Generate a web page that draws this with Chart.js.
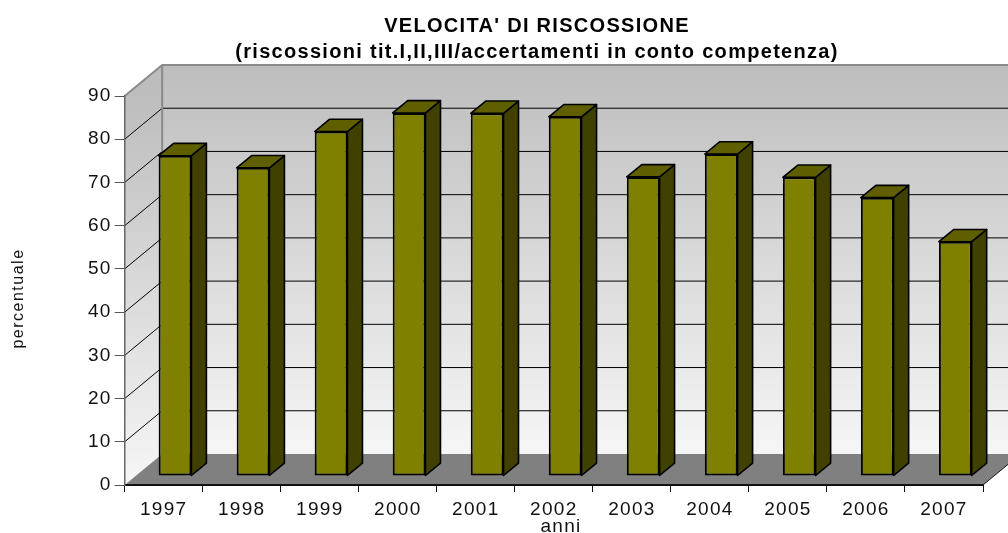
<!DOCTYPE html>
<html>
<head>
<meta charset="utf-8">
<title>Velocita' di riscossione</title>
<script src="https://cdn.jsdelivr.net/npm/chart.js@4/dist/chart.umd.min.js"></script>
<style>
    html, body { margin: 0; padding: 0; background: #fff; overflow: hidden; }
    #wrap { width: 1008px; height: 533px; }
</style>
</head>
<body>
<div id="wrap"><canvas id="chart" width="1008" height="533"></canvas></div>
<script>
const years = ["1997", "1998", "1999", "2000", "2001", "2002", "2003", "2004", "2005", "2006", "2007"];
const velocita = [74.1, 71.3, 79.7, 84, 83.9, 83.1, 69.2, 74.5, 69.1, 64.4, 54.2];
const titleLines = ["VELOCITA' DI RISCOSSIONE", "(riscossioni tit.I,II,III/accertamenti in conto competenza)"];
const yAxisTitle = "percentuale";
const xAxisTitle = "anni";

// depth of the fake 3D box and of the bars inside it
const wallDx = 37.5, wallDy = 31;
const barDx = 11.3, barDy = 9;
const sideDx = 15, sideDy = 12.3;

const poly = (ctx, pts, fill, stroke, lw) => {
    ctx.beginPath();
    pts.forEach((p, i) => i ? ctx.lineTo(p[0], p[1]) : ctx.moveTo(p[0], p[1]));
    ctx.closePath();
    if (fill) { ctx.fillStyle = fill; ctx.fill(); }
    if (stroke) { ctx.strokeStyle = stroke; ctx.lineWidth = lw; ctx.stroke(); }
};

const box3d = {
    id: "box3d",
    afterLayout(chart) {
        // title is centred a bit right of the canvas middle
        chart.titleBlock.left += 91;
    },
    beforeDraw(chart) {
        const ctx = chart.ctx, a = chart.chartArea, y = chart.scales.y;
        ctx.letterSpacing = "1.3px";
        ctx.save();
        const bx = a.left + wallDx, by = a.top - wallDy, fy = a.bottom - wallDy;

        let g = ctx.createLinearGradient(0, by, 0, fy);
        g.addColorStop(0, "#bdbdbd");
        g.addColorStop(1, "#f6f6f6");
        poly(ctx, [[bx, by], [a.right + wallDx, by], [a.right + wallDx, fy], [bx, fy]], g);

        g = ctx.createLinearGradient(0, a.top, 0, a.bottom);
        g.addColorStop(0, "#bdbdbd");
        g.addColorStop(1, "#f6f6f6");
        poly(ctx, [[a.left, a.top], [bx, by], [bx, fy], [a.left, a.bottom]], g);

        // floor
        poly(ctx, [[a.left, a.bottom], [bx, fy], [a.right + wallDx, fy], [a.right, a.bottom]], "#808080");

        // gridlines: side wall then back wall
        ctx.strokeStyle = "#000";
        ctx.lineWidth = 1;
        y.ticks.forEach(t => {
            if (t.value === 0 || t.value === 90) return;
            const py = y.getPixelForValue(t.value);
            ctx.beginPath();
            ctx.moveTo(a.left, py);
            ctx.lineTo(bx, py - wallDy);
            ctx.lineTo(a.right + wallDx, py - wallDy);
            ctx.stroke();
        });

        // box edges
        ctx.strokeStyle = "#8a8a8a";
        ctx.lineWidth = 2;
        ctx.beginPath();
        ctx.moveTo(a.left, a.top);
        ctx.lineTo(bx, by);
        ctx.lineTo(a.right + wallDx, by);
        ctx.moveTo(bx, by);
        ctx.lineTo(bx, fy);
        ctx.stroke();

        ctx.strokeStyle = "#111";
        ctx.lineWidth = 1;
        ctx.beginPath();
        ctx.moveTo(a.right, a.bottom);
        ctx.lineTo(a.right + wallDx, fy);
        ctx.stroke();
        ctx.restore();
    },
    beforeDatasetDraw(chart) {
        chart.ctx.save();
        chart.ctx.translate(barDx, -barDy);
    },
    afterDatasetDraw(chart, args) {
        const ctx = chart.ctx;
        args.meta.data.forEach(bar => {
            const p = bar.getProps(["x", "y", "base", "width"], true);
            const l = p.x - p.width / 2, r = p.x + p.width / 2;
            ctx.lineJoin = "round";
            poly(ctx, [[r, p.y], [r + sideDx, p.y - sideDy], [r + sideDx, p.base - sideDy], [r, p.base]], "#404000", "#000", 1.6);
            poly(ctx, [[l, p.y], [l + sideDx, p.y - sideDy], [r + sideDx, p.y - sideDy], [r, p.y]], "#5f5f00", "#000", 1.6);
        });
        ctx.restore();
    },
    afterDraw(chart) {
        const ctx = chart.ctx;
        ctx.save();
        ctx.fillStyle = "#111";
        ctx.textAlign = "center";
        ctx.font = "19px 'Liberation Sans'";
        ctx.fillText(xAxisTitle, 561, 532);
        ctx.letterSpacing = "1.5px";
        ctx.translate(23, 298.5);
        ctx.rotate(-Math.PI / 2);
        ctx.font = "16px 'Liberation Sans'";
        ctx.fillText(yAxisTitle, 0, 0);
        ctx.restore();
    }
};

new Chart(document.getElementById("chart"), {
    type: "bar",
    data: {
        labels: years,
        datasets: [{
            label: "percentuale",
            data: velocita,
            backgroundColor: "#808000",
            borderColor: "#000",
            borderWidth: 2,
            borderSkipped: false,
            barPercentage: 0.42,
            categoryPercentage: 1
        }]
    },
    options: {
        responsive: false,
        animation: false,
        layout: { padding: { right: 25 } },
        plugins: {
            legend: { display: false },
            tooltip: { enabled: false },
            title: {
                display: true,
                text: titleLines,
                color: "#000",
                font: { family: "'Liberation Sans'", size: 20, weight: "bold", lineHeight: 1.3 },
                padding: { top: 13, bottom: 31 }
            }
        },
        scales: {
            x: {
                afterFit: s => { s.height = 48; },
                grid: { drawOnChartArea: false, drawTicks: true, tickLength: 7, color: "#111", offset: true },
                border: { color: "#111", width: 2 },
                ticks: { color: "#111", font: { family: "'Liberation Sans'", size: 19 }, padding: 6, autoSkip: false, maxRotation: 0 }
            },
            y: {
                min: 0,
                max: 90,
                afterFit: s => { s.width = 124.7; },
                grid: { drawOnChartArea: false, drawTicks: true, tickLength: 10, color: "#555" },
                border: { color: "#666", width: 1.5 },
                ticks: { stepSize: 10, color: "#111", font: { family: "'Liberation Sans'", size: 19 }, padding: 3 }
            }
        }
    },
    plugins: [box3d]
});
</script>
</body>
</html>
